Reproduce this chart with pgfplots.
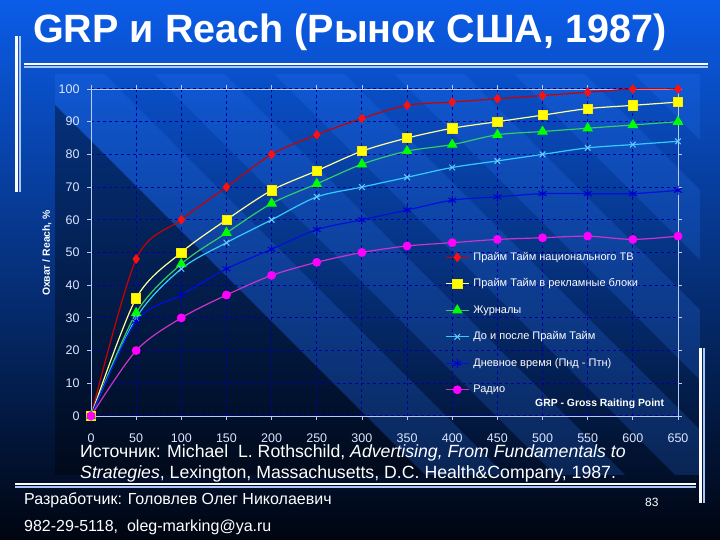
\documentclass[border=0pt]{standalone}
\usepackage{fontspec}
\setmainfont{Liberation Sans}
\usepackage{pgfplots}
\pgfplotsset{compat=1.18}
\definecolor{bgtop}{HTML}{0B5CE8}
\definecolor{bgmid}{HTML}{06318F}
\definecolor{bgbot}{HTML}{000510}
\definecolor{stripe}{HTML}{2E7BFF}
\definecolor{gridcol}{HTML}{0000A8}
\definecolor{axiscol}{HTML}{B8CCF0}
\definecolor{tickcol}{HTML}{DCE6FF}
\definecolor{lnred}{HTML}{CC0000}
\definecolor{mkred}{HTML}{FF1010}
\definecolor{lnyel}{HTML}{FFFF99}
\definecolor{mkyel}{HTML}{FFFF00}
\definecolor{lngrn}{HTML}{33CC66}
\definecolor{mkgrn}{HTML}{00FF00}
\definecolor{lncyn}{HTML}{33CCFF}
\definecolor{mkcyn}{HTML}{66CCFF}
\definecolor{lnblu}{HTML}{0010DD}
\definecolor{mkblu}{HTML}{0000CC}
\definecolor{lnmag}{HTML}{CC33CC}
\definecolor{mkmag}{HTML}{FF00FF}
\definecolor{barlight}{HTML}{A8C8F8}
\begin{document}
\begin{tikzpicture}[x=1pt,y=1pt]
\useasboundingbox (0pt,0pt) rectangle (720pt,540pt);
% background
\shade[top color=bgtop, middle color=bgmid, bottom color=bgbot] (0,0) rectangle (720,540);
\begin{scope}
\clip (55,65) rectangle (700,465);
\fill[black, opacity=0.35] (0,0) -- (490,0) -- (0,490) -- cycle;
\foreach \a/\b in {490/570, 620/690, 740/810, 860/930, 980/1050, 1100/1170}{
  \fill[stripe, opacity=0.2] (\a,0) -- (\b,0) -- (\b-540,540) -- (\a-540,540) -- cycle;
}
\end{scope}
% decorative bars
\draw[white, line width=2.5pt] (16.5,348) -- (16.5,504);
\draw[barlight, line width=2pt] (19.8,348) -- (19.8,504);
\draw[white, line width=2pt] (24,475.5) -- (708,475.5);
\draw[barlight, line width=2pt] (24,472.5) -- (708,472.5);
\draw[white, line width=2pt] (15,55.5) -- (696,55.5);
\draw[barlight, line width=2pt] (15,52.5) -- (696,52.5);
\draw[white, line width=2.5pt] (700.5,37) -- (700.5,192);
\draw[barlight, line width=2pt] (703.8,37) -- (703.8,192);
% title
\node[anchor=base west, inner sep=0, text=white, font=\fontsize{39.5}{42}\selectfont\bfseries] at (33,497) {GRP и Reach (Рынок США, 1987)};
\coordinate (axorig) at (91pt,124pt);
\begin{axis}[
  at={(axorig)}, anchor=south west, scale only axis,
  width=587pt, height=327pt,
  xmin=0, xmax=650, ymin=0, ymax=100,
  xtick={0,50,...,650}, ytick={0,10,...,100},
  grid=major,
  major grid style={gridcol, dash pattern=on 3pt off 3pt, line width=1pt},
  axis line style={axiscol, line width=0.8pt},
  tick style={axiscol, line width=0.8pt},
  tick align=outside, major tick length=4pt,
  /pgf/number format/assume math mode=true,
  ticklabel style={font=\fontsize{12.5}{14}\selectfont, text=tickcol},
  xticklabel style={yshift=-10pt},
  yticklabel style={xshift=-4pt},
  legend style={at={(rel axis cs:0.603,0.502)}, anchor=north west,
    draw=none, fill=none, inner sep=0pt, column sep=4pt, row sep=16pt,
    font=\fontsize{11}{12}\selectfont, text=white,
    nodes={inner sep=0pt, text height=8pt, text depth=2.5pt}},
  legend cell align=left,
  legend image code/.code={\draw[mark repeat=2, mark phase=2] plot coordinates {(0pt,0pt) (11.5pt,0pt) (23pt,0pt)};},
  every axis plot/.append style={smooth, line width=1.2pt},
]
\addplot[lnred, mark=diamond*, mark size=4pt, mark options={fill=mkred, draw=mkred}] coordinates {
(0,0) (50,48) (100,60) (150,70) (200,80) (250,86) (300,91) (350,95) (400,96) (450,97) (500,98) (550,99) (600,100) (650,100)};
\addlegendentry{Прайм Тайм национального ТВ}
\addplot[lnyel, mark=square*, mark size=4.6pt, mark options={fill=mkyel, draw=mkyel!80!orange, line width=0.6pt}] coordinates {
(0,0) (50,36) (100,50) (150,60) (200,69) (250,75) (300,81) (350,85) (400,88) (450,90) (500,92) (550,94) (600,95) (650,96)};
\addlegendentry{Прайм Тайм в рекламные блоки}
\addplot[lngrn, mark=triangle*, mark size=5pt, mark options={fill=mkgrn, draw=mkgrn}] coordinates {
(0,0) (50,31.5) (100,46.5) (150,56) (200,65) (250,71) (300,77) (350,81) (400,83) (450,86) (500,87) (550,88) (600,89) (650,90)};
\addlegendentry{Журналы}
\addplot[lncyn, mark=x, mark size=4pt, mark options={draw=mkcyn, line width=1pt}] coordinates {
(0,0) (50,30) (100,45) (150,53) (200,60) (250,67) (300,70) (350,73) (400,76) (450,78) (500,80) (550,82) (600,83) (650,84)};
\addlegendentry{До и после Прайм Тайм}
\addplot[lnblu, mark=asterisk, mark size=4.5pt, mark options={draw=mkblu, line width=1pt}] coordinates {
(0,0) (50,29) (100,37) (150,45) (200,51) (250,57) (300,60) (350,63) (400,66) (450,67) (500,68) (550,68) (600,68) (650,69)};
\addlegendentry{Дневное время (Пнд - Птн)}
\addplot[lnmag, mark=*, mark size=3.8pt, mark options={fill=mkmag, draw=mkmag}] coordinates {
(0,0) (50,20) (100,30) (150,37) (200,43) (250,47) (300,50) (350,52) (400,53) (450,54) (500,54.5) (550,55) (600,54) (650,55)};
\addlegendentry{Радио}
\end{axis}
% axis annotations
\node[rotate=90, text=white, font=\fontsize{10.4}{12}\selectfont\bfseries] at (47pt,287pt) {Охват / Reach, \%};
\node[anchor=west, inner sep=0, text=white, font=\fontsize{10.4}{12}\selectfont\bfseries] at (535pt,136pt) {GRP - Gross Raiting Point};
% source
\node[anchor=base west, inner sep=0, text=white, font=\fontsize{17.7}{20}\selectfont] at (80pt,82pt) {Источник: Michael\ \ L. Rothschild, \textit{Advertising, From Fundamentals to}};
\node[anchor=base west, inner sep=0, text=white, font=\fontsize{17.7}{20}\selectfont] at (80pt,61pt) {\textit{Strategies}, Lexington, Massachusetts, D.C. Health\&Company, 1987.};
% footer
\node[anchor=base west, inner sep=0, text=white, font=\fontsize{16}{18}\selectfont] at (24pt,35pt) {Разработчик: Головлев Олег Николаевич};
\node[anchor=base west, inner sep=0, text=white, font=\fontsize{16}{18}\selectfont] at (24pt,8pt) {982-29-5118,\ \ oleg-marking@ya.ru};
\node[anchor=base west, inner sep=0, text=white, font=\fontsize{12}{14}\selectfont] at (645pt,33pt) {83};
\end{tikzpicture}
\end{document}
